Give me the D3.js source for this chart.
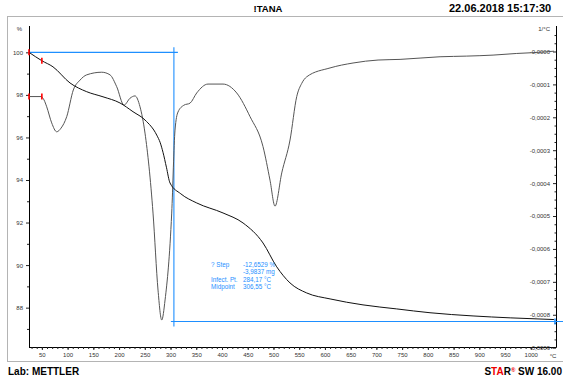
<!DOCTYPE html>
<html>
<head>
<meta charset="utf-8">
<script src="https://cdn.jsdelivr.net/npm/d3@7"></script>
<style>
  body { margin: 0; background: #fff; }
  svg { display: block; font-family: "Liberation Sans", Arial, sans-serif; }
</style>
</head>
<body>
<svg id="chart" width="563" height="380"></svg>
<script>
// TG curve: temperature (°C) vs mass (%)
const tgTemp = [25, 49.7, 71.6, 104.7, 137.1, 168.8, 201.8, 227.1, 250.4, 273.2, 280, 285.4, 292, 299, 320, 350.9, 402, 440.9, 479.7, 506.3, 532.2, 564.6, 610, 674, 739.5, 804.2, 887.8, 960, 1045];
const tgMass = [100, 99.61, 99.32, 98.56, 98.15, 97.91, 97.62, 97.21, 96.82, 96.11, 95.75, 95.3, 94.6, 93.86, 93.35, 92.92, 92.45, 91.98, 91.04, 89.92, 89.16, 88.69, 88.41, 88.13, 87.94, 87.76, 87.61, 87.52, 87.44];

// DTG curve: temperature (°C) vs derivative (1e-4 1/°C)
const dtgTemp = [25, 48.3, 54.1, 59.4, 69.1, 78.8, 87.2, 98.3, 111.1, 124.1, 137.1, 166.3, 182.4, 195.4, 209.6, 221.3, 231, 240.7, 250.4, 266, 275.7, 282.9, 289.4, 302.3, 308.7, 314.5, 326.2, 337.9, 350.9, 372.8, 402, 428.6, 454.5, 479.7, 493.3, 503, 516.1, 532.2, 545.2, 554.9, 564.6, 609.9, 654.6, 703.2, 746, 823.7, 875.6, 926.7, 972.7, 1031, 1045];
const dtgVal = [-1.37, -1.37, -1.47, -1.68, -2.17, -2.44, -2.33, -1.98, -1.17, -0.87, -0.71, -0.63, -0.71, -1.07, -1.63, -1.42, -1.35, -1.68, -2.48, -4.91, -7.25, -8.16, -7.55, -4.91, -2.39, -1.84, -1.63, -1.57, -1.26, -0.99, -0.99, -1.26, -1.98, -2.89, -3.91, -4.70, -3.69, -2.69, -1.37, -0.97, -0.77, -0.50, -0.35, -0.26, -0.24, -0.16, -0.14, -0.11, -0.06, -0.01, 0.01];

// axis ticks
const xMajor = [50, 100, 150, 200, 250, 300, 350, 400, 450, 500, 550, 600, 650, 700, 750, 800, 850, 900, 950, 1000];
const leftMajor = [88, 90, 92, 94, 96, 98, 100];
const leftMinor = [87, 89, 91, 93, 95, 97, 99];
const rightMajor = [0, -1, -2, -3, -4, -5, -6, -7, -8, -9];
const rightLabels = ["-0,0000", "-0,0001", "-0,0002", "-0,0003", "-0,0004", "-0,0005", "-0,0006", "-0,0007", "-0,0008", "-0,0009"];

// evaluation result
const stepStart = 100;
const stepEnd = 87.35;
const midpoint = 306.55;
const evalLabels = ["? Step", "", "Infect. Pt.", "Midpoint"];
const evalValues = ["-12,6529 %", "-3,9837 mg", "284,17 °C", "306,55 °C"];
const markerTemps = [25, 50];

const svg = d3.select('#chart');
const blue = '#1e8fff';

const x = d3.scaleLinear().domain([25, 1049]).range([29, 556]);
const yL = d3.scaleLinear().domain([86.15, 101.05]).range([347, 30]);
const yR = d3.scaleLinear().domain([-8.98, 0.653]).range([347, 30]);

// outer frame
svg.append('rect')
  .attr('x', 7.5).attr('y', 16.5).attr('width', 620).attr('height', 345)
  .attr('fill', 'none').attr('stroke', '#b4b4b4');

// header & footer
svg.append('text').attr('x', 268).attr('y', 12).attr('text-anchor', 'middle')
  .attr('font-size', 9.5).attr('font-weight', 'bold').text('!TANA');
svg.append('text').attr('x', 449).attr('y', 12)
  .attr('font-size', 11).attr('font-weight', 600).text('22.06.2018 15:17:30');
svg.append('text').attr('x', 8).attr('y', 375)
  .attr('font-size', 10).attr('font-weight', 600).text('Lab: METTLER');
const star = svg.append('text').attr('x', 562).attr('y', 375).attr('text-anchor', 'end').attr('font-size', 10).attr('font-weight', 600);
star.append('tspan').text('S');
star.append('tspan').attr('fill', '#e00').text('TA');
star.append('tspan').text('R');
star.append('tspan').attr('fill', '#e00').attr('font-size', 6).attr('dy', -3).text('®');
star.append('tspan').attr('dy', 3).text(' SW 16.00');

// left axis
const gL = svg.append('g').attr('transform', 'translate(29,0)');
gL.call(d3.axisLeft(yL).tickValues(leftMajor).tickSize(3).tickFormat(d3.format('d')));
gL.append('g').call(d3.axisLeft(yL).tickValues(leftMinor).tickSize(2).tickFormat(''));
gL.selectAll('.domain').attr('d', 'M0.5,26V347.5');
svg.append('text').attr('x', 22).attr('y', 31).attr('text-anchor', 'end').attr('font-size', 6).attr('fill', '#333').text('%');

// bottom axis
const gB = svg.append('g').attr('transform', 'translate(0,347)');
gB.call(d3.axisBottom(x).tickValues(xMajor).tickSize(3).tickFormat(d3.format('d')));
gB.append('g').call(d3.axisBottom(x).tickValues(d3.range(30, 1050, 10)).tickSize(2).tickFormat(''));
gB.selectAll('.domain').attr('d', 'M29,0.5H556');
svg.append('text').attr('x', 553).attr('y', 358).attr('text-anchor', 'middle').attr('font-size', 6).attr('fill', '#333').text('°C');

// right axis
const gR = svg.append('g').attr('transform', 'translate(556,0)');
gR.call(d3.axisLeft(yR).tickValues(rightMajor).tickSize(3).tickFormat((d, i) => rightLabels[i]));
gR.append('g').call(d3.axisLeft(yR).tickValues(d3.range(0.5, -9, -0.25).filter(v => v % 1 !== 0)).tickSize(1.5).tickFormat(''));
gR.selectAll('.domain').attr('d', 'M0.5,26V347.5');
svg.append('text').attr('x', 550).attr('y', 31).attr('text-anchor', 'end').attr('font-size', 6).attr('fill', '#333').text('1/°C');

svg.selectAll('.tick text').attr('font-size', 6).attr('fill', '#333').attr('font-family', '"Liberation Sans", Arial, sans-serif');
svg.selectAll('.tick line').attr('stroke', '#222');

// evaluation lines
svg.append('line').attr('x1', x(25)).attr('x2', x(midpoint) + 4).attr('y1', yL(stepStart)).attr('y2', yL(stepStart))
  .attr('stroke', blue).attr('stroke-width', 1.1);
svg.append('line').attr('x1', x(midpoint) - 3).attr('x2', 563).attr('y1', yL(stepEnd)).attr('y2', yL(stepEnd))
  .attr('stroke', blue).attr('stroke-width', 1.1);
svg.append('line').attr('x1', x(midpoint)).attr('x2', x(midpoint)).attr('y1', yL(stepStart) - 5).attr('y2', yL(stepEnd) + 5)
  .attr('stroke', blue).attr('stroke-width', 1.1);

// curves
const dtgLine = d3.line().curve(d3.curveMonotoneX).x((d, i) => x(dtgTemp[i])).y(d => yR(d));
svg.append('path').datum(dtgVal).attr('d', dtgLine)
  .attr('fill', 'none').attr('stroke', '#555').attr('stroke-width', 1);
const tgLine = d3.line().curve(d3.curveMonotoneX).x((d, i) => x(tgTemp[i])).y(d => yL(d));
svg.append('path').datum(tgMass).attr('d', tgLine)
  .attr('fill', 'none').attr('stroke', '#111').attr('stroke-width', 1);

// red limit markers
markerTemps.forEach((t, i) => {
  const ty = i === 0 ? yL(tgMass[0]) : yL(99.6);
  const dy = yR(dtgVal[0]);
  [ty, dy].forEach(yy => {
    svg.append('line').attr('x1', x(t)).attr('x2', x(t)).attr('y1', yy - 3).attr('y2', yy + 3)
      .attr('stroke', '#f00').attr('stroke-width', 1.6);
  });
});
svg.append('line').attr('x1', 555).attr('x2', 555).attr('y1', yL(stepEnd) - 3).attr('y2', yL(stepEnd) + 3)
  .attr('stroke', blue).attr('stroke-width', 1.5);

// evaluation text
const ev = svg.append('g').attr('font-size', 6.3).attr('fill', blue);
evalLabels.forEach((t, i) => {
  ev.append('text').attr('x', 211).attr('y', 267 + i * 7.3).text(t);
  ev.append('text').attr('x', 243).attr('y', 267 + i * 7.3).text(evalValues[i]);
});
</script>
</body>
</html>
